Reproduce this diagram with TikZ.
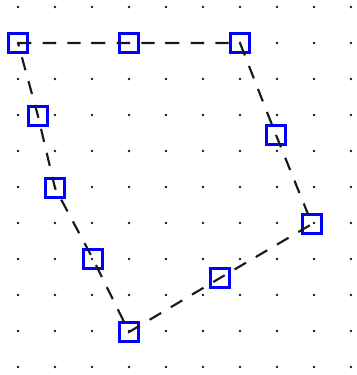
\documentclass[tikz,border=0pt]{standalone}
\begin{document}
\begin{tikzpicture}[x=0.75pt,y=-0.75pt,
  gridpt/.style={fill=black!90},
  markbox/.style={draw=blue,line width=1.9pt,minimum size=14.6pt,inner sep=0pt,shape=rectangle},
  conn/.style={draw=black!90,line width=1.6pt,dash pattern=on 10pt off 8.5pt}]
\useasboundingbox (0,0) rectangle (357,375);
\foreach \i in {0,...,9}{
  \foreach \j in {0,...,10}{
    \fill[gridpt] ({18+37*\i},{7+36*\j}) circle (1.05pt);
  }
}
\node[markbox] (a1) at (18,43) {};
\node[markbox] (a2) at (129,43) {};
\node[markbox] (a3) at (240,43) {};
\node[markbox] (a4) at (276,135) {};
\node[markbox] (a5) at (312,224) {};
\node[markbox] (a6) at (220,278) {};
\node[markbox] (a7) at (129,332) {};
\node[markbox] (a8) at (93,259) {};
\node[markbox] (a9) at (55,188) {};
\node[markbox] (a10) at (38,116) {};
\draw[conn] (a1.center) -- (a2.center) -- (a3.center) -- (a4.center) -- (a5.center) -- (a6.center) -- (a7.center) -- (a8.center) -- (a9.center) -- (a10.center) -- cycle;
\end{tikzpicture}
\end{document}
